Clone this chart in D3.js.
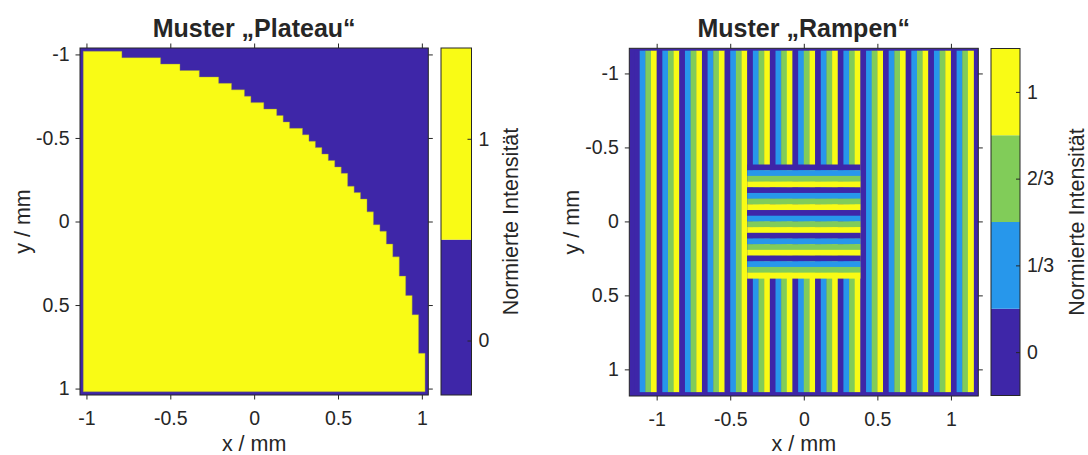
<!DOCTYPE html>
<html>
<head>
<meta charset="utf-8">
<script src="https://cdn.jsdelivr.net/npm/d3@7"></script>
<style>
  body { margin: 0; background: #ffffff; }
  text { font-family: "Liberation Sans", Arial, Helvetica, sans-serif; fill: #262626; }
</style>
</head>
<body>
<svg id="chart" width="1088" height="455"></svg>
<script>
// Pattern pixel pitch in mm
const pixelPitch = 1 / 26;

// "Plateau": number of bright pixels per row, counted from the left edge (top row first)
const plateauBrightCount = [
  6, 12, 15, 18, 21, 23, 25, 26, 28, 30, 31, 32, 34, 35, 36, 37, 38, 39, 40, 41, 41,
  42, 43, 44, 44, 45, 45, 46, 47, 47, 48, 48, 49, 49, 49, 50, 50, 50, 51, 51, 51,
  52, 52, 52, 52, 52, 52, 53, 53, 53, 53, 53, 53
];
const plateauLevels = [0, 1];
const plateauLevelLabels = ["0", "1"];
const plateauColorRange = [-0.27, 1.45];

// "Rampen": one ramp period, repeated across the pattern
const rampLevels = [0, 1 / 3, 2 / 3, 1];
const rampLevelLabels = ["0", "1/3", "2/3", "1"];
const rampColorRange = [-1 / 6, 7 / 6];
const rampHalfWidthPx = 30;   // pattern spans ±30 pixels
const rampBlockHalfPx = 10;   // central block with horizontal ramps spans ±10 pixels

const axisTicks = [-1, -0.5, 0, 0.5, 1];
const axisTickLabels = ["-1", "-0.5", "0", "0.5", "1"];

const titles = ["Muster \u201EPlateau\u201C", "Muster \u201ERampen\u201C"];
const xLabel = "x / mm";
const yLabel = "y / mm";
const cbLabel = "Normierte Intensität";

const parula2 = ["#3e26a8", "#f9fb15"];
const parula4 = ["#3e26a8", "#2797eb", "#81cc59", "#f9fb15"];

const svg = d3.select("#chart");
const axisColor = "#262626";
const tickFont = "19.5px";
const labelFont = "21.5px";

function drawFrameAxes(g, xS, yS, box, title) {
  const tick = 4.5;
  const fmt = d => axisTickLabels[axisTicks.indexOf(d)];
  const mk = (axis, tr) => {
    const a = g.append("g").attr("transform", tr).call(axis);
    a.select(".domain").remove();
    a.selectAll("line").attr("stroke", axisColor).attr("stroke-width", 1);
    a.selectAll("text").style("font-size", tickFont).attr("fill", axisColor);
    return a;
  };
  mk(d3.axisBottom(xS).tickValues(axisTicks).tickFormat(fmt).tickSize(tick).tickPadding(12),
     `translate(0,${box.y1})`);
  mk(d3.axisTop(xS).tickValues(axisTicks).tickFormat("").tickSize(tick),
     `translate(0,${box.y0})`);
  mk(d3.axisLeft(yS).tickValues(axisTicks).tickFormat(fmt).tickSize(tick).tickPadding(6),
     `translate(${box.x0},0)`);
  mk(d3.axisRight(yS).tickValues(axisTicks).tickFormat("").tickSize(tick),
     `translate(${box.x1},0)`);
  g.append("rect")
    .attr("x", box.x0).attr("y", box.y0)
    .attr("width", box.x1 - box.x0).attr("height", box.y1 - box.y0)
    .attr("fill", "none").attr("stroke", axisColor).attr("stroke-width", 1);

  const cx = (box.x0 + box.x1) / 2, cy = (box.y0 + box.y1) / 2;
  g.append("text").attr("x", cx).attr("y", 37).attr("text-anchor", "middle")
    .style("font-size", "25px").style("font-weight", "bold").attr("fill", "#000").text(title);
  g.append("text").attr("x", cx).attr("y", 451).attr("text-anchor", "middle")
    .style("font-size", labelFont).text(xLabel);
  g.append("text")
    .attr("transform", `translate(${box.x0 - 58},${cy}) rotate(-90)`)
    .attr("text-anchor", "middle").attr("dy", "0.35em").style("font-size", labelFont).text(yLabel);
}

function drawColorbar(g, box, levels, labels, colors, domain, labelX) {
  const cS = d3.scaleLinear().domain(domain).range([box.y1, box.y0]);
  // band edges halfway between neighbouring levels, clipped to the bar range
  const edges = [domain[0]];
  for (let i = 1; i < levels.length; i++) edges.push((levels[i - 1] + levels[i]) / 2);
  edges.push(domain[1]);
  g.selectAll("rect.band").data(levels).join("rect").attr("class", "band")
    .attr("x", box.x0).attr("width", box.x1 - box.x0)
    .attr("y", (d, i) => cS(edges[i + 1]))
    .attr("height", (d, i) => cS(edges[i]) - cS(edges[i + 1]))
    .attr("fill", (d, i) => colors[i]);
  g.append("rect").attr("x", box.x0).attr("y", box.y0)
    .attr("width", box.x1 - box.x0).attr("height", box.y1 - box.y0)
    .attr("fill", "none").attr("stroke", axisColor).attr("stroke-width", 1);
  const ax = g.append("g").attr("transform", `translate(${box.x1},0)`)
    .call(d3.axisLeft(cS).tickValues(levels).tickFormat((d, i) => labels[i]).tickSize(4));
  ax.select(".domain").remove();
  ax.selectAll("line").attr("stroke", axisColor);
  ax.selectAll("text").attr("x", 7).attr("text-anchor", "start")
    .style("font-size", tickFont).attr("fill", axisColor);
  g.append("text")
    .attr("transform", `translate(${labelX},${(box.y0 + box.y1) / 2}) rotate(-90)`)
    .attr("text-anchor", "middle").attr("dy", "0.35em").style("font-size", labelFont).text(cbLabel);
}

// ---------- Left panel: Plateau ----------
{
  const box = { x0: 80, x1: 428.3, y0: 48, y1: 395 };
  const lim = 27 * pixelPitch;
  const xS = d3.scaleLinear().domain([-lim, lim]).range([box.x0, box.x1]);
  const yS = d3.scaleLinear().domain([-lim, lim]).range([box.y0, box.y1]);
  const g = svg.append("g");

  g.append("rect").attr("x", box.x0).attr("y", box.y0)
    .attr("width", box.x1 - box.x0).attr("height", box.y1 - box.y0).attr("fill", parula2[0]);

  const edge = 26.5;
  const p = d3.path();
  p.moveTo(xS(-edge * pixelPitch), yS(-edge * pixelPitch));
  plateauBrightCount.forEach((n, k) => {
    const xr = xS((n - edge) * pixelPitch);
    p.lineTo(xr, yS((k - edge) * pixelPitch));
    p.lineTo(xr, yS((k + 1 - edge) * pixelPitch));
  });
  p.lineTo(xS(-edge * pixelPitch), yS((plateauBrightCount.length - edge) * pixelPitch));
  p.closePath();
  g.append("path").attr("d", p.toString()).attr("fill", parula2[1])
    .attr("stroke", "#8c8a55").attr("stroke-width", 0.6).attr("stroke-opacity", 0.7);

  drawFrameAxes(g, xS, yS, box, titles[0]);
  drawColorbar(svg.append("g"), { x0: 441, x1: 471.5, y0: 48, y1: 395 },
    plateauLevels, plateauLevelLabels, parula2, plateauColorRange, 510);
}

// ---------- Right panel: Rampen ----------
{
  const box = { x0: 629.3, x1: 978.3, y0: 48.3, y1: 396 };
  const xS = d3.scaleLinear().domain([-1.186, 1.186]).range([box.x0, box.x1]);
  const yS = d3.scaleLinear().domain([-1.17, 1.18]).range([box.y0, box.y1]);
  const g = svg.append("g");
  const n = rampLevels.length;
  const ramp = i => parula4[(((i + 26) % n) + n) % n];

  g.append("rect").attr("x", box.x0).attr("y", box.y0)
    .attr("width", box.x1 - box.x0).attr("height", box.y1 - box.y0).attr("fill", parula4[0]);

  const cols = d3.range(-rampHalfWidthPx, rampHalfWidthPx);
  g.selectAll("rect.vcol").data(cols).join("rect").attr("class", "vcol")
    .attr("x", i => xS(i * pixelPitch))
    .attr("width", i => xS((i + 1) * pixelPitch) - xS(i * pixelPitch) + 0.3)
    .attr("y", yS(-rampHalfWidthPx * pixelPitch))
    .attr("height", yS(rampHalfWidthPx * pixelPitch) - yS(-rampHalfWidthPx * pixelPitch))
    .attr("fill", ramp);

  const rows = d3.range(-rampBlockHalfPx, rampBlockHalfPx);
  g.selectAll("rect.hrow").data(rows).join("rect").attr("class", "hrow")
    .attr("x", xS(-rampBlockHalfPx * pixelPitch))
    .attr("width", xS(rampBlockHalfPx * pixelPitch) - xS(-rampBlockHalfPx * pixelPitch))
    .attr("y", r => yS(r * pixelPitch))
    .attr("height", r => yS((r + 1) * pixelPitch) - yS(r * pixelPitch) + 0.3)
    .attr("fill", ramp);

  drawFrameAxes(g, xS, yS, box, titles[1]);
  drawColorbar(svg.append("g"), { x0: 991, x1: 1020, y0: 48.5, y1: 395.5 },
    rampLevels, rampLevelLabels, parula4, rampColorRange, 1076);
}
</script>
</body>
</html>
